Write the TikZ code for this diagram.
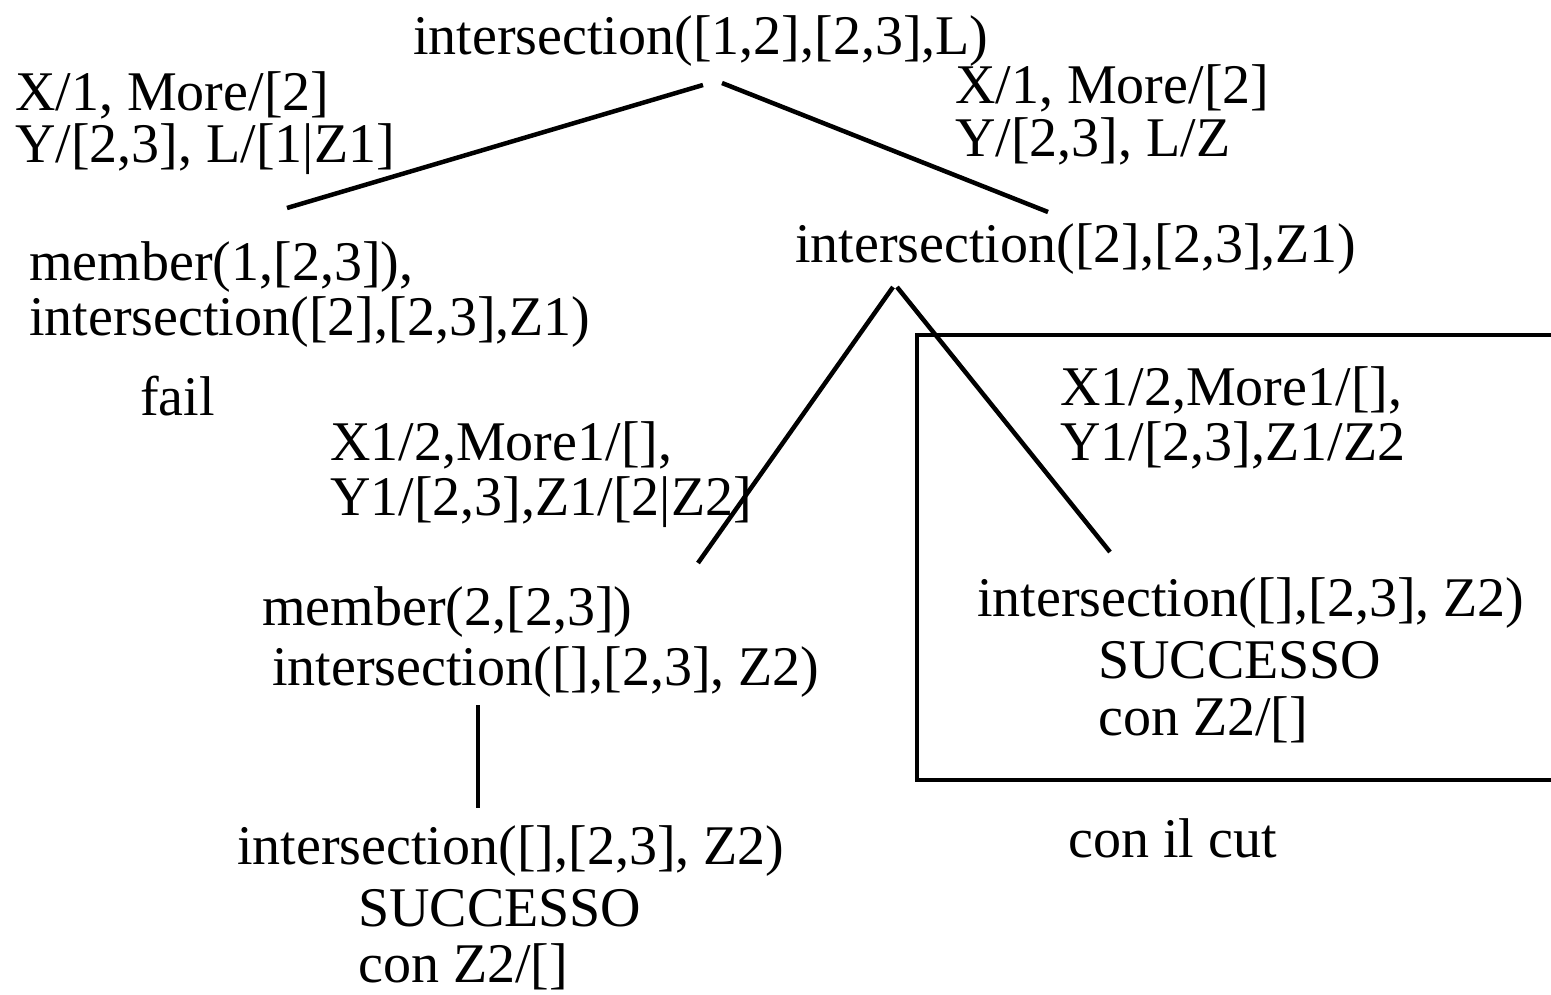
\documentclass[tikz,border=0pt]{standalone}
\usepackage{fontspec}
\setmainfont{Liberation Serif}
\begin{document}
\begin{tikzpicture}[x=1pt,y=-1pt,
  txt/.style={inner sep=0pt, anchor=base west, align=left, font=\fontsize{56}{55}\selectfont},
  edge/.style={line width=4.5pt, line cap=butt},
  frame/.style={line width=4.5pt}]
\useasboundingbox[fill=white] (0,0) rectangle (1551,995);
% text nodes (anchor = baseline of the last line)
\node[txt] (root) at (413,55) {intersection([1,2],[2,3],L)};
\node[txt] (ll) at (15,163) {X/1, More/[2]\\[-3pt]Y/[2,3], L/[1|Z1]};
\node[txt] (rl) at (955,157) {X/1, More/[2]\\[-2pt]Y/[2,3], L/Z};
\node[txt] (n1) at (29,335) {member(1,[2,3]),\\intersection([2],[2,3],Z1)};
\node[txt] (fail) at (140,415) {fail};
\node[txt] (n2) at (795,262) {intersection([2],[2,3],Z1)};
\node[txt] (ml) at (330,515) {X1/2,More1/[],\\Y1/[2,3],Z1/[2|Z2]};
\node[txt] (rb) at (1060,460) {X1/2,More1/[],\\Y1/[2,3],Z1/Z2};
\node[txt] (n3) at (262,685) {member(2,[2,3])\\[5pt]\hspace*{10pt}intersection([],[2,3], Z2)};
\node[txt] (n4) at (977,735) {intersection([],[2,3], Z2)\\[7pt]\hspace*{121pt}SUCCESSO\\[2pt]\hspace*{121pt}con Z2/[]};
\node[txt] (n5) at (237,982) {intersection([],[2,3], Z2)\\[7pt]\hspace*{121pt}SUCCESSO\\[1pt]\hspace*{121pt}con Z2/[]};
\node[txt] (cut) at (1068,857) {con il cut};
% connector end points
\coordinate (rootL) at (703,85);
\coordinate (rootR) at (722,83);
\coordinate (n1top) at (287,208);
\coordinate (n2top) at (1048,212);
\coordinate (n2L) at (893,287);
\coordinate (n2R) at (897,287);
\coordinate (n3top) at (698,563);
\coordinate (n4top) at (1110,552);
\coordinate (n3bot) at (478,705);
\coordinate (n5top) at (478,808);
% connectors
\draw[edge] (rootL) -- (n1top);
\draw[edge] (rootR) -- (n2top);
\draw[edge] (n2L) -- (n3top);
\draw[edge] (n2R) -- (n4top);
\draw[edge] (n3bot) -- (n5top);
% cut frame (open to the right edge)
\draw[frame] (1560,335) -- (917,335) -- (917,780) -- (1560,780);
\end{tikzpicture}
\end{document}
